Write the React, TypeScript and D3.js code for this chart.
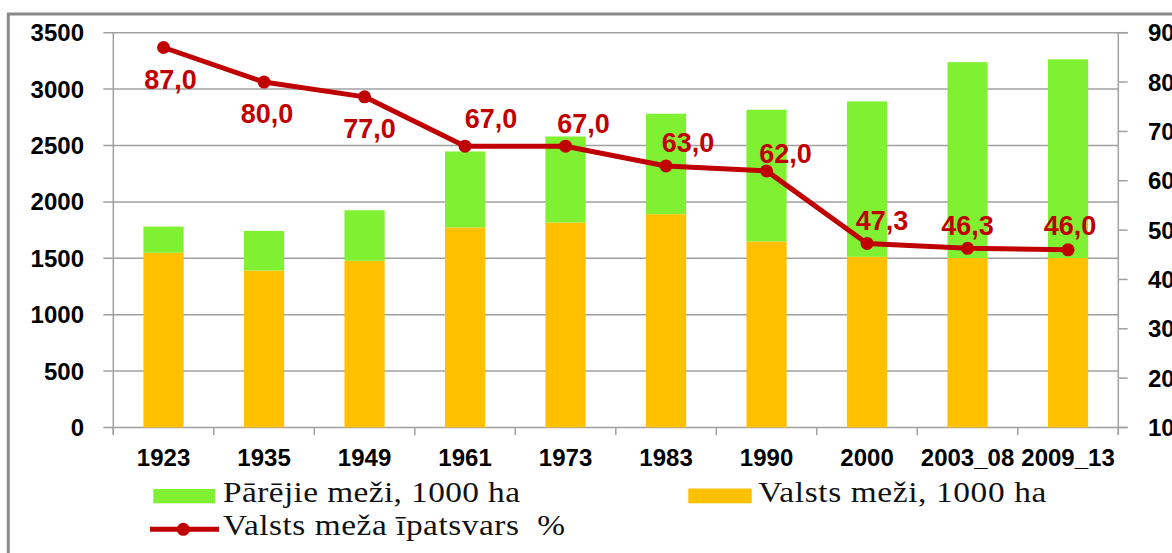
import React from "react";
import * as d3 from "d3";

const categories = ["1923", "1935", "1949", "1961", "1973", "1983", "1990", "2000", "2003_08", "2009_13"];
const stateForest = [1549, 1392, 1478, 1774, 1818, 1891, 1649, 1513, 1502, 1502];
const otherForest = [232, 351, 448, 673, 762, 891, 1168, 1378, 1737, 1762];
const stateShare = [87.0, 80.0, 77.0, 67.0, 67.0, 63.0, 62.0, 47.3, 46.3, 46.0];
const leftTicks = [0, 500, 1000, 1500, 2000, 2500, 3000, 3500];
const rightTicks = [10, 20, 30, 40, 50, 60, 70, 80, 90];
const legendOther = "Pārējie meži, 1000 ha";
const legendState = "Valsts meži, 1000 ha";
const legendShare = "Valsts meža īpatsvars  %";

// label placement (dx, dy from the point to label centre/baseline)
const labelPlacement: [number, number][] = [
  [7, 41], [3, 41], [5, 41], [26, -18], [18, -13], [22, -14], [19, -8], [15, -13], [0, -13], [2, -15],
];

const W = 1172, H = 553;
const X0 = 113.3, X1 = 1118.3, Y0 = 427.5, Y1 = 32.7;
const GREEN = "#80F032", ORANGE = "#FFC000", RED = "#C00000", GRID = "#a0a0a0";
const SANS = "Liberation Sans, Arial, sans-serif";
const SERIF = "Liberation Serif, Times New Roman, serif";
const SX = 1.15;

function LegendText({ x, y, w, children }: { x: number; y: number; w: number; children: string }) {
  return (
    <g transform={`translate(${x},${y}) scale(${SX},1)`}>
      <text x={0} y={0} fontFamily={SERIF} fontSize={29} fill="#111" textLength={w / SX} lengthAdjust="spacing" style={{ whiteSpace: "pre" }}>
        {children}
      </text>
    </g>
  );
}

export default function App() {
  const x = d3.scaleBand<string>().domain(categories).range([X0, X1]).paddingInner(0.6).paddingOuter(0.3);
  const step = x.step();
  const yL = d3.scaleLinear().domain([0, 3500]).range([Y0, Y1]);
  const yR = d3.scaleLinear().domain([10, 90]).range([Y0, Y1]);

  const rows = categories.map((c, i) => ({ cat: c, state: stateForest[i], other: otherForest[i] }));
  const stacked = d3.stack<any>().keys(["state", "other"])(rows);
  const colors = [ORANGE, GREEN];

  const cx = (c: string) => (x(c) ?? 0) + x.bandwidth() / 2;
  const line = d3.line<number>().x((_, i) => cx(categories[i])).y((v) => yR(v));
  const fmt = (v: number) => v.toFixed(1).replace(".", ",");

  return (
    <div style={{ position: "fixed", left: 0, top: 0 }}>
      <svg width={W} height={H} style={{ display: "block", background: "#fff" }}>
        <path d={`M8.3,${H + 5} L8.3,14 L${W + 5},14`} fill="none" stroke="#8a8a8a" strokeWidth={3} />

        {leftTicks.map((t) => (
          <line key={"g" + t} x1={103.3} x2={t === 0 || t === 3500 ? 1127.7 : X1} y1={yL(t)} y2={yL(t)} stroke={GRID} strokeWidth={1.5} />
        ))}
        <line x1={X0} x2={X0} y1={Y1} y2={435} stroke={GRID} strokeWidth={1.5} />
        <line x1={X1} x2={X1} y1={Y1} y2={435} stroke={GRID} strokeWidth={1.5} />
        {rightTicks.map((t) => (
          <line key={"rt" + t} x1={X1} x2={1127.7} y1={yR(t)} y2={yR(t)} stroke={GRID} strokeWidth={1.5} />
        ))}
        {d3.range(categories.length + 1).map((i) => (
          <line key={"bt" + i} x1={X0 + i * step} x2={X0 + i * step} y1={Y0} y2={435} stroke={GRID} strokeWidth={1.5} />
        ))}

        {stacked.map((s, si) =>
          s.map((d, i) => (
            <rect key={si + "-" + i} x={x(categories[i])} width={x.bandwidth()} y={yL(d[1])} height={yL(d[0]) - yL(d[1])} fill={colors[si]} />
          ))
        )}

        {leftTicks.map((t) => (
          <text key={"lt" + t} x={84} y={yL(t) + 8.5} textAnchor="end" fontFamily={SANS} fontWeight="bold" fontSize={24} fill="#000">{t}</text>
        ))}
        {rightTicks.map((t) => (
          <text key={"rl" + t} x={1148} y={yR(t) + 8.5} textAnchor="start" fontFamily={SANS} fontWeight="bold" fontSize={24} fill="#000">{t}</text>
        ))}
        {categories.map((c) => (
          <text key={"c" + c} x={cx(c)} y={465.5} textAnchor="middle" fontFamily={SANS} fontWeight="bold" fontSize={24} fill="#000">{c}</text>
        ))}

        <path d={line(stateShare) ?? ""} fill="none" stroke={RED} strokeWidth={5} strokeLinejoin="round" />
        {stateShare.map((v, i) => (
          <circle key={"p" + i} cx={cx(categories[i])} cy={yR(v)} r={6.5} fill={RED} />
        ))}
        {stateShare.map((v, i) => (
          <text key={"dl" + i} x={cx(categories[i]) + labelPlacement[i][0]} y={yR(v) + labelPlacement[i][1]} textAnchor="middle"
            fontFamily={SANS} fontWeight="bold" fontSize={27} fill={RED}>{fmt(v)}</text>
        ))}

        <rect x={153.3} y={489} width={61.7} height={14.3} fill={GREEN} />
        <LegendText x={223} y={502.3} w={297}>{legendOther}</LegendText>
        <rect x={688.3} y={488.5} width={63.4} height={14.8} fill={ORANGE} />
        <LegendText x={758.3} y={502.3} w={288}>{legendState}</LegendText>
        <line x1={150} x2={219} y1={529.3} y2={529.3} stroke={RED} strokeWidth={5} />
        <circle cx={183.3} cy={529.3} r={6.5} fill={RED} />
        <LegendText x={223} y={535} w={342}>{legendShare}</LegendText>
      </svg>
    </div>
  );
}
